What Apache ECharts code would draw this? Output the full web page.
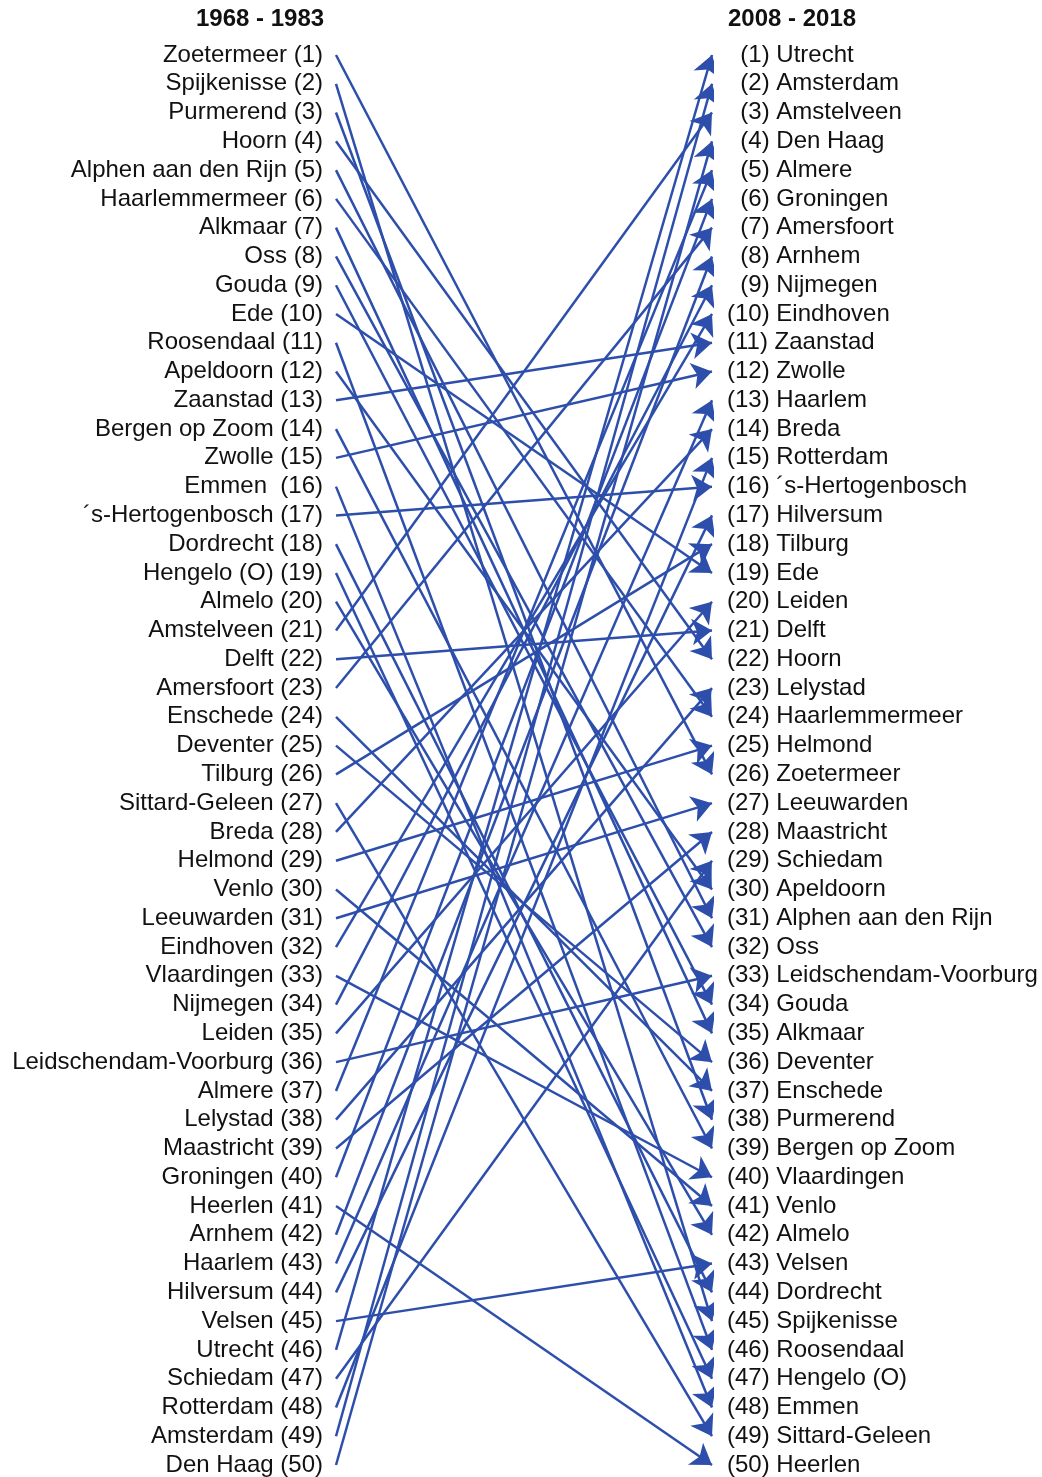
<!DOCTYPE html>
<html>
<head>
<meta charset="utf-8">
<script src="https://cdn.jsdelivr.net/npm/echarts@6/dist/echarts.min.js"></script>
<style>
  html, body { margin: 0; padding: 0; background: #fff; }
  #main { width: 1042px; height: 1477px; }
</style>
</head>
<body>
<div id="main"></div>
<script>
var dom = document.getElementById('main');
var myChart = echarts.init(dom, null, { renderer: 'canvas' });

// ranking 1968 - 1983
const leftNames = [
  'Zoetermeer', 'Spijkenisse', 'Purmerend', 'Hoorn', 'Alphen aan den Rijn',
  'Haarlemmermeer', 'Alkmaar', 'Oss', 'Gouda', 'Ede',
  'Roosendaal', 'Apeldoorn', 'Zaanstad', 'Bergen op Zoom', 'Zwolle',
  'Emmen ', '´s-Hertogenbosch', 'Dordrecht', 'Hengelo (O)', 'Almelo',
  'Amstelveen', 'Delft', 'Amersfoort', 'Enschede', 'Deventer',
  'Tilburg', 'Sittard-Geleen', 'Breda', 'Helmond', 'Venlo',
  'Leeuwarden', 'Eindhoven', 'Vlaardingen', 'Nijmegen', 'Leiden',
  'Leidschendam-Voorburg', 'Almere', 'Lelystad', 'Maastricht', 'Groningen',
  'Heerlen', 'Arnhem', 'Haarlem', 'Hilversum', 'Velsen',
  'Utrecht', 'Schiedam', 'Rotterdam', 'Amsterdam', 'Den Haag'
];

// ranking 2008 - 2018
const rightNames = [
  'Utrecht', 'Amsterdam', 'Amstelveen', 'Den Haag', 'Almere',
  'Groningen', 'Amersfoort', 'Arnhem', 'Nijmegen', 'Eindhoven',
  'Zaanstad', 'Zwolle', 'Haarlem', 'Breda', 'Rotterdam',
  '´s-Hertogenbosch', 'Hilversum', 'Tilburg', 'Ede', 'Leiden',
  'Delft', 'Hoorn', 'Lelystad', 'Haarlemmermeer', 'Helmond',
  'Zoetermeer', 'Leeuwarden', 'Maastricht', 'Schiedam', 'Apeldoorn',
  'Alphen aan den Rijn', 'Oss', 'Leidschendam-Voorburg', 'Gouda', 'Alkmaar',
  'Deventer', 'Enschede', 'Purmerend', 'Bergen op Zoom', 'Vlaardingen',
  'Venlo', 'Almelo', 'Velsen', 'Dordrecht', 'Spijkenisse',
  'Roosendaal', 'Hengelo (O)', 'Emmen', 'Sittard-Geleen', 'Heerlen'
];

const lineColor = '#2d4fab';

const links = leftNames.map(function (name, i) {
  const j = rightNames.indexOf(name.trim());
  return { coords: [[0, i + 1], [1, j + 1]] };
});

const labelFont = {
  fontFamily: 'Liberation Sans, Arial, sans-serif',
  fontSize: 24,
  color: '#111'
};

const titleFont = {
  fontFamily: 'Liberation Sans, Arial, sans-serif',
  fontSize: 24,
  fontWeight: 'bold',
  color: '#111'
};

option = {
  animation: false,
  title: [
    { text: '1968 - 1983', left: 196, top: 7, padding: 0, textStyle: titleFont },
    { text: '2008 - 2018', left: 728, top: 7, padding: 0, textStyle: titleFont }
  ],
  grid: {
    left: 336,
    right: 330,
    top: 55,
    bottom: 12
  },
  xAxis: {
    type: 'value',
    min: 0,
    max: 1,
    show: false
  },
  yAxis: [
    {
      type: 'value',
      position: 'left',
      min: 1,
      max: 50,
      interval: 1,
      inverse: true,
      axisLine: { show: false },
      axisTick: { show: false },
      splitLine: { show: false },
      axisLabel: Object.assign({
        margin: 13,
        formatter: function (v) {
          return leftNames[v - 1] + ' (' + v + ')';
        }
      }, labelFont)
    },
    {
      type: 'value',
      position: 'right',
      min: 1,
      max: 50,
      interval: 1,
      inverse: true,
      axisLine: { show: false },
      axisTick: { show: false },
      splitLine: { show: false },
      axisLabel: Object.assign({
        margin: 15,
        align: 'left',
        formatter: function (v) {
          // pad single digits so the closing brackets line up
          return (v < 10 ? '  ' : '') + '(' + v + ') ' + rightNames[v - 1];
        }
      }, labelFont)
    }
  ],
  series: [
    {
      type: 'lines',
      coordinateSystem: 'cartesian2d',
      xAxisIndex: 0,
      yAxisIndex: 0,
      symbol: ['none', 'arrow'],
      symbolSize: 20,
      lineStyle: { color: lineColor, width: 2.5, opacity: 1 },
      itemStyle: { color: lineColor },
      data: links
    }
  ]
};

myChart.setOption(option);
window.addEventListener('resize', myChart.resize);
</script>
</body>
</html>
